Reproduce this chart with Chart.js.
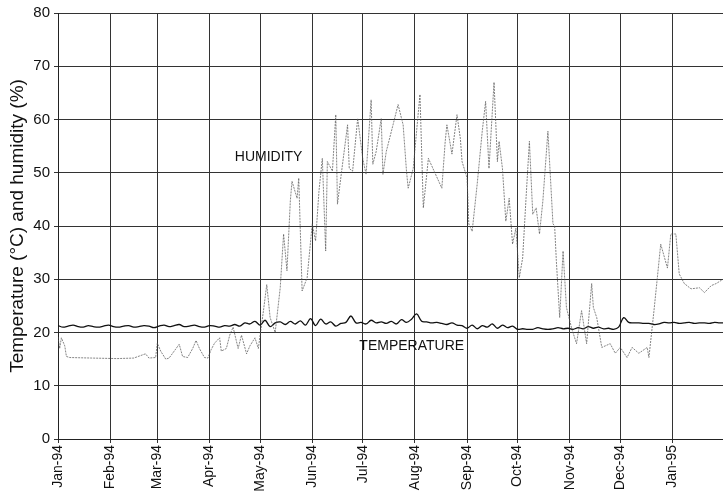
<!DOCTYPE html>
<html>
<head>
<meta charset="utf-8">
<script src="https://cdn.jsdelivr.net/npm/chart.js@4/dist/chart.umd.min.js"></script>
<style>
  html, body { margin: 0; padding: 0; background: #fff; }
  canvas { display: block; }
</style>
</head>
<body>
<canvas id="chart" width="723" height="499"></canvas>
<script>
// Day numbers count from 1 Jan 1994 (day 0)
const monthDays = [0, 31, 59, 90, 120, 151, 181, 212, 243, 273, 304, 334, 365];
const monthLabels = ['Jan-94', 'Feb-94', 'Mar-94', 'Apr-94', 'May-94', 'Jun-94', 'Jul-94',
  'Aug-94', 'Sep-94', 'Oct-94', 'Nov-94', 'Dec-94', 'Jan-95'];

// Temperature (°C), one reading every 3 days from day 0
const TEMP_STEP = 3;
const temperature = [
  21.3, 21.0, 21.2, 21.4, 21.1, 21.0, 21.3, 21.1, 21.0, 21.2,
  21.4, 21.1, 21.0, 21.2, 21.3, 21.0, 21.1, 21.3, 21.2, 20.9,
  21.2, 21.4, 21.1, 21.3, 21.5, 21.1, 21.2, 21.4, 21.1, 21.0,
  21.3, 21.2, 21.0, 21.3, 21.2, 21.5, 21.2,
  21.8, 21.6, 22.1, 21.4, 22.3, 21.1, 21.8, 22.0, 21.5, 22.1,
  21.6, 22.2, 21.4, 22.6, 21.3, 22.5, 21.6, 22.0, 21.2, 21.7,
  21.9, 23.1, 21.8, 21.9, 21.6, 22.3, 21.8, 22.0, 21.7, 22.1,
  21.6, 22.4, 21.9, 22.5, 23.5, 22.1, 22.0, 21.8, 21.9, 21.7,
  21.5, 21.8, 21.4, 21.3, 20.8, 21.4, 20.7, 21.3, 21.0, 21.6,
  20.8, 21.4, 20.9, 21.2, 20.6, 20.7, 20.6, 20.6, 20.9, 20.7,
  20.6, 20.7, 20.9, 20.7, 20.8, 20.6, 20.9, 20.7, 21.1, 20.8,
  21.0, 20.7, 20.8, 20.6, 21.0, 22.8, 21.9, 21.8, 21.8, 21.7,
  21.7, 21.5, 21.6, 21.9, 21.8, 21.9, 21.7, 21.8, 21.9, 21.7,
  21.8, 21.8, 21.7, 21.9, 21.8, 21.8
];

// Relative humidity (%), read at irregular days
const humidityDays = [
  0, 1, 2, 4, 5, 7, 20, 35, 45, 52, 54, 58,
  59, 61, 64, 66, 69, 72, 74, 77, 80, 82, 84, 87, 89, 91, 93, 96, 97, 100,
  102, 104, 107, 109, 112, 114, 117, 119,
  122, 124, 126, 129, 132, 134, 136, 138, 139, 142, 143, 145, 148,
  151, 153, 155, 157, 159, 160, 163, 165, 166, 169, 172, 173, 175, 178,
  181, 183, 186, 187, 189, 192, 193, 195, 199, 202, 205, 207, 208, 211,
  213, 215, 217, 220, 228, 230, 231, 234, 237, 239, 240,
  243, 244, 246, 249, 252, 254, 256, 259, 261, 262, 264, 266, 268, 270, 272,
  274, 276, 278, 280, 282, 284, 286, 288, 291, 294, 295, 296, 298, 300, 302,
  305, 308, 311, 314, 317, 318, 320, 323, 328, 331,
  334, 338, 341, 345, 350, 351, 354, 356, 358, 362, 364,
  367, 369, 372, 376, 381, 384, 388, 391, 395
];
const humidity = [
  19.2, 17.0, 19.0, 17.5, 15.5, 15.3, 15.2, 15.1, 15.2, 16.0, 15.2, 15.3,
  18.0, 16.5, 15.0, 15.2, 16.5, 17.8, 15.5, 15.3, 17.0, 18.5, 17.0, 15.3, 15.2, 16.8, 18.0, 19.0, 16.5, 17.0,
  19.5, 21.0, 17.0, 19.5, 16.0, 17.5, 19.0, 17.0,
  24.0, 29.0, 22.8, 20.0, 28.4, 38.5, 31.6, 44.7, 48.4, 45.2, 49.0, 27.8, 30.3,
  40.4, 37.2, 46.5, 52.7, 35.3, 52.1, 50.3, 60.9, 44.1, 51.6, 59.0, 50.8, 50.3, 60.2,
  52.7, 49.7, 63.7, 51.6, 54.0, 60.2, 49.7, 54.0, 59.0, 62.8, 59.0, 50.3, 47.1, 50.8,
  57.8, 64.7, 43.4, 52.7, 47.1, 55.9, 59.0, 53.5, 60.9, 56.4, 52.1,
  49.0, 40.4, 39.0, 47.9, 57.8, 63.4, 50.8, 67.0, 52.1, 55.9, 50.8, 40.9, 45.2, 36.6, 39.6,
  30.3, 34.0, 45.2, 55.9, 42.2, 43.4, 38.5, 44.7, 57.8, 40.4, 40.0, 33.5, 22.8, 35.3, 24.7,
  20.9, 17.9, 24.1, 17.9, 29.2, 24.7, 22.8, 17.2, 17.9, 16.1,
  17.2, 15.3, 17.2, 16.1, 17.2, 15.3, 24.1, 30.3, 36.6, 32.1, 38.5,
  38.5, 31.0, 29.2, 28.2, 28.4, 27.5, 28.8, 29.2, 30.0
];

// In-plot labels, placed at data coordinates
const seriesLabels = [
  { text: 'HUMIDITY', day: 105, value: 53 },
  { text: 'TEMPERATURE', day: 179, value: 17.4 }
];

const tempPoints = temperature.map((v, i) => ({ x: i * TEMP_STEP, y: v }));
const humPoints = humidity.map((v, i) => ({ x: humidityDays[i], y: v }));

const fontFamily = '"Liberation Sans", Arial, sans-serif';

const labelPlugin = {
  id: 'seriesLabels',
  afterDatasetsDraw(chart) {
    const { ctx, scales } = chart;
    ctx.save();
    ctx.font = '14px ' + fontFamily;
    ctx.fillStyle = '#111';
    ctx.textBaseline = 'middle';
    seriesLabels.forEach(l => {
      ctx.fillText(l.text, scales.x.getPixelForValue(l.day), scales.y.getPixelForValue(l.value));
    });
    ctx.restore();
  }
};

new Chart(document.getElementById('chart'), {
  type: 'line',
  data: {
    datasets: [
      {
        label: 'Humidity',
        data: humPoints,
        borderColor: 'rgba(80, 80, 80, 0.7)',
        borderWidth: 1,
        borderDash: [2, 1],
        pointRadius: 0,
        tension: 0
      },
      {
        label: 'Temperature',
        data: tempPoints,
        borderColor: '#111',
        borderWidth: 1.3,
        pointRadius: 0,
        tension: 0.35
      }
    ]
  },
  options: {
    responsive: false,
    animation: false,
    devicePixelRatio: 1,
    layout: { padding: { top: 11, right: 0, bottom: 0, left: 0 } },
    plugins: {
      legend: { display: false },
      tooltip: { enabled: false }
    },
    scales: {
      x: {
        type: 'linear',
        min: 0,
        max: 395,
        afterBuildTicks: axis => { axis.ticks = monthDays.map(d => ({ value: d })); },
        afterFit: scale => { scale.height = 60; },
        grid: { color: '#333', lineWidth: 1, tickLength: 4 },
        border: { color: '#222' },
        ticks: {
          autoSkip: false,
          minRotation: 90,
          maxRotation: 90,
          padding: 2,
          color: '#111',
          font: { family: fontFamily, size: 14 },
          callback: v => monthLabels[monthDays.indexOf(v)]
        }
      },
      y: {
        min: 0,
        max: 80,
        afterFit: scale => { scale.width = 58; },
        grid: { color: '#333', lineWidth: 1, tickLength: 4 },
        border: { color: '#222' },
        ticks: {
          stepSize: 10,
          color: '#111',
          padding: 4,
          font: { family: fontFamily, size: 15 }
        },
        title: {
          display: true,
          text: 'Temperature (°C) and humidity (%)',
          color: '#111',
          padding: { top: 6, bottom: 0 },
          font: { family: fontFamily, size: 19 }
        }
      }
    }
  },
  plugins: [labelPlugin]
});
</script>
</body>
</html>
